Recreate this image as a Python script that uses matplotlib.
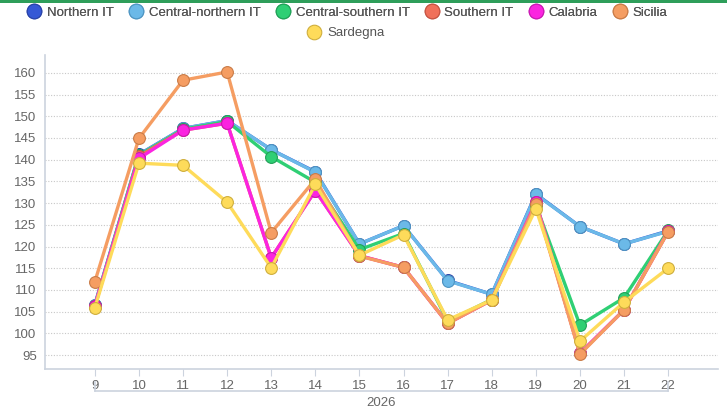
import matplotlib.pyplot as plt
from matplotlib.lines import Line2D
from matplotlib.patches import Rectangle

plt.rcParams['font.family'] = ['Liberation Sans', 'DejaVu Sans']

# week numbers
weeks = [9, 10, 11, 12, 13, 14, 15, 16, 17, 18, 19, 20, 21, 22]

northern_it = [106.6, 141.2, 147.2, 149.0, 142.3, 137.2, 120.6, 124.8, 112.2, 109.0, 132.1, 124.6, 120.6, 123.6]
central_northern_it = [106.5, 141.1, 147.2, 149.0, 142.3, 137.1, 120.6, 124.8, 112.1, 109.0, 132.0, 124.6, 120.6, 123.5]
central_southern_it = [106.3, 141.0, 147.0, 148.8, 140.7, 134.8, 119.3, 123.0, 102.8, 107.8, 129.6, 101.9, 108.2, 123.7]
southern_it = [106.3, 140.8, 146.8, 148.4, 117.4, 132.9, 117.9, 115.2, 102.3, 107.7, 130.2, 95.4, 105.4, 123.5]
calabria = [106.3, 140.3, 146.8, 148.4, 117.4, 132.9, 117.9, 115.2, 102.3, 107.7, 130.2, 95.4, 105.4, 123.5]
sicilia = [111.9, 144.9, 158.3, 160.2, 123.2, 135.5, 117.8, 115.2, 102.3, 107.7, 129.8, 95.2, 105.4, 123.4]
sardegna = [105.9, 139.2, 138.7, 130.2, 115.1, 134.3, 118.0, 122.7, 103.1, 107.7, 128.7, 98.2, 107.2, 115.0]

series = [
    ("Northern IT", northern_it, "#3558d6", "#2a44a8"),
    ("Central-northern IT", central_northern_it, "#6bb9e8", "#4e95c2"),
    ("Central-southern IT", central_southern_it, "#2fcf74", "#22a058"),
    ("Southern IT", southern_it, "#f0705a", "#c55443"),
    ("Calabria", calabria, "#fb24e0", "#c81ab2"),
    ("Sicilia", sicilia, "#f59d62", "#c97b47"),
    ("Sardegna", sardegna, "#fedb5a", "#cfae3c"),
]

fig = plt.figure(figsize=(7.27, 4.17), dpi=100)
ax = fig.add_axes([0.0619, 0.1151, 0.9257, 0.7529])

for name, vals, col, edge in series:
    ax.plot(weeks, vals, color=col, lw=2.4, marker="o", markersize=8.5,
            markerfacecolor=col, markeredgecolor=edge, markeredgewidth=0.8,
            solid_joinstyle="round", label=name)

ax.set_xlim(7.87, 23.13)
ax.set_ylim(91.8, 164.1)
ax.set_yticks(range(95, 161, 5))
ax.set_xticks(weeks)
ax.grid(axis="y", color="#c8c8c8", linestyle=(0, (1, 1.5)), linewidth=0.8)
ax.set_axisbelow(True)

for s in ["top", "right"]:
    ax.spines[s].set_visible(False)
for s in ["left", "bottom"]:
    ax.spines[s].set_color("#ccd3de")
    ax.spines[s].set_linewidth(1.2)

ax.tick_params(axis="y", length=0, labelsize=9.5, labelcolor="#666666", pad=6)
ax.tick_params(axis="x", length=5, color="#ccd3de", labelsize=9.5, labelcolor="#666666", pad=3)

# year bracket under the week labels
tr = ax.get_xaxis_transform()
ax.add_line(Line2D([weeks[0], weeks[-1]], [-0.070, -0.070], transform=tr, color="#ccd3de", lw=1.2, clip_on=False))
ax.add_line(Line2D([weeks[0], weeks[0]], [-0.070, -0.040], transform=tr, color="#ccd3de", lw=1.2, clip_on=False))
ax.add_line(Line2D([weeks[-1], weeks[-1]], [-0.070, -0.040], transform=tr, color="#ccd3de", lw=1.2, clip_on=False))
ax.text((weeks[0] + weeks[-1]) / 2, -0.108, "2026", transform=tr, ha="center", va="center",
        fontsize=9.5, color="#666666")

# legend (two centred rows)
handles = [Line2D([], [], linestyle="none", marker="o", markersize=10.5,
                  markerfacecolor=col, markeredgecolor=edge, markeredgewidth=0.8)
           for name, vals, col, edge in series]
labels = [s[0] for s in series]
leg_kw = dict(frameon=False, fontsize=9.5, labelcolor="#555555", handletextpad=0.45,
              columnspacing=1.2, handlelength=1.0, borderaxespad=0, borderpad=0)
leg1 = fig.legend(handles[:6], labels[:6], ncol=6, loc="center", bbox_to_anchor=(0.478, 0.970), **leg_kw)
fig.add_artist(leg1)
fig.legend(handles[6:], labels[6:], ncol=1, loc="center", bbox_to_anchor=(0.476, 0.920), **leg_kw)

# thin green strip at top of the page
fig.add_artist(Rectangle((0, 0.994), 1, 0.006, transform=fig.transFigure, color="#2e9e5a", lw=0))

fig.savefig("out.png", dpi=100)
